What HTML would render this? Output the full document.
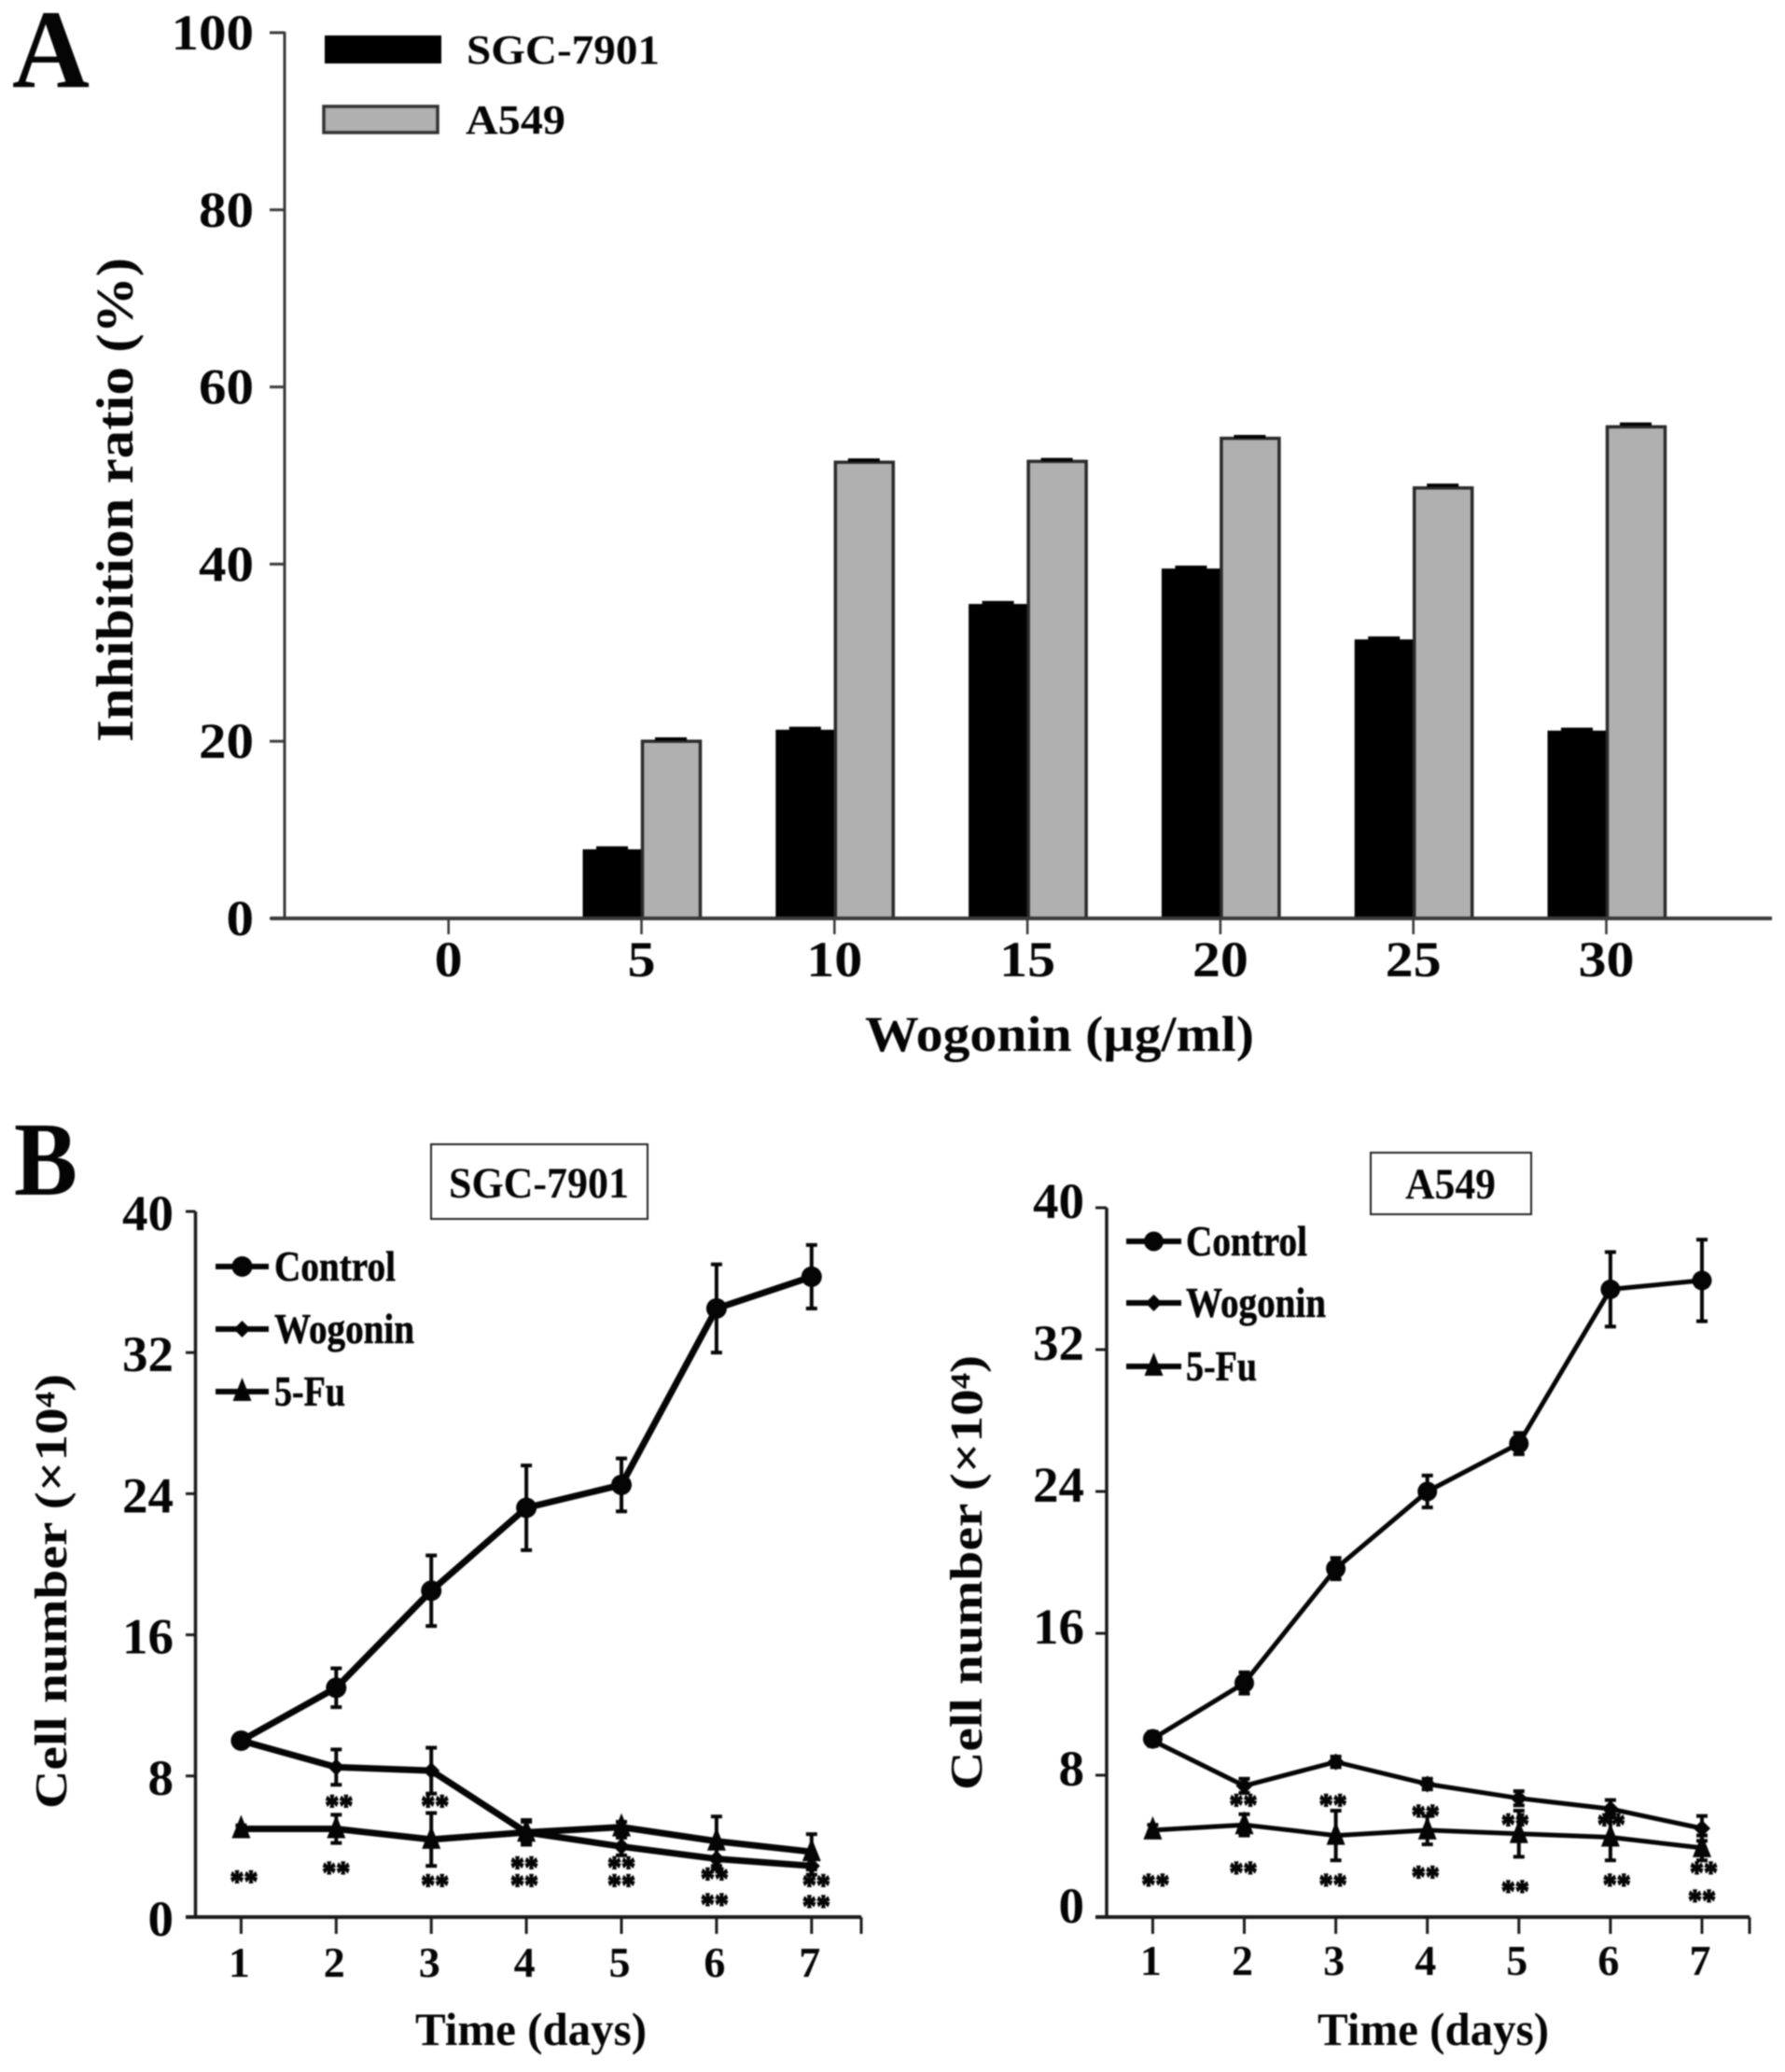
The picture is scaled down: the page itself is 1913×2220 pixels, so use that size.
<!DOCTYPE html>
<html>
<head>
<meta charset="utf-8">
<title>Wogonin inhibition and cell growth charts</title>
<style>
html,body{margin:0;padding:0;background:#fff;}
svg{display:block;filter:blur(0.9px);}
text{font-family:"Liberation Serif",serif;font-weight:bold;fill:#050505;}
</style>
</head>
<body>
<svg id="figure" width="1913" height="2220" viewBox="0 0 1913 2220" xmlns="http://www.w3.org/2000/svg">
  <rect width="1913" height="2220" fill="#fff"/>

  <text x="13" y="93" font-size="120" textLength="83" lengthAdjust="spacingAndGlyphs">A</text>
  <text x="15" y="1280" font-size="112" textLength="68" lengthAdjust="spacingAndGlyphs">B</text>

  <g id="panel-a">
    <rect x="348" y="38" width="125" height="30" fill="#000"/>
    <rect x="347" y="114" width="122" height="28" fill="#b0b0b0" stroke="#333" stroke-width="3.5"/>
    <text x="500" y="68" font-size="44" textLength="207" lengthAdjust="spacingAndGlyphs">SGC-7901</text>
    <text x="499" y="143" font-size="44" textLength="107" lengthAdjust="spacingAndGlyphs">A549</text>
    <text transform="translate(142,795) rotate(-90)" font-size="56" textLength="519" lengthAdjust="spacingAndGlyphs">Inhibition ratio (%)</text>
    <text x="927" y="1126" font-size="54" textLength="417" lengthAdjust="spacingAndGlyphs">Wogonin (µg/ml)</text>
  </g>

  <g id="panel-b-left">
    <rect x="462" y="1226" width="232" height="80" fill="#fff" stroke="#222" stroke-width="2"/>
    <text x="481" y="1283" font-size="47" textLength="193" lengthAdjust="spacingAndGlyphs">SGC-7901</text>
    <text transform="translate(71,1938) rotate(-90)" font-size="49" textLength="466" lengthAdjust="spacingAndGlyphs">Cell number (×10⁴)</text>
    <text x="445" y="2191" font-size="50" textLength="248" lengthAdjust="spacingAndGlyphs">Time (days)</text>
  </g>

  <g id="panel-b-right">
    <rect x="1469" y="1235" width="172" height="66" fill="#fff" stroke="#222" stroke-width="2"/>
    <text x="1506" y="1284" font-size="47" textLength="97" lengthAdjust="spacingAndGlyphs">A549</text>
    <text transform="translate(1052,1918) rotate(-90)" font-size="49" textLength="466" lengthAdjust="spacingAndGlyphs">Cell number (×10⁴)</text>
    <text x="1412" y="2191" font-size="50" textLength="248" lengthAdjust="spacingAndGlyphs">Time (days)</text>
  </g>
</svg>

<script>
// ---------- Panel A data ----------
const doseLabels = ['0', '5', '10', '15', '20', '25', '30'];
const inhibitionTicks = [0, 20, 40, 60, 80, 100];
const sgcInhibition = [0, 7.8, 21.3, 35.5, 39.5, 31.5, 21.2];
const a549Inhibition = [0, 20, 51.5, 51.6, 54.2, 48.6, 55.5];
const sgcInhibitionErr = [0, 0.1, 0.1, 0.1, 0.1, 0.1, 0.1];
const a549InhibitionErr = [0, 0.15, 0.15, 0.1, 0.1, 0.2, 0.2];

// ---------- Panel B data ----------
const dayLabels = [1, 2, 3, 4, 5, 6, 7];
const cellTicks = [0, 8, 16, 24, 32, 40];

const sgcControl = [10, 13, 18.5, 23.2, 24.5, 34.5, 36.3];
const sgcControlErr = [0.4, 1.1, 2, 2.4, 1.5, 2.5, 1.8];
const sgcWogonin = [10, 8.5, 8.3, 4.8, 4, 3.3, 2.9];
const sgcWogoninErr = [0.3, 1, 1.3, 0.7, 0.5, 0.6, 0.5];
const sgcFu = [5, 5, 4.4, 4.8, 5.1, 4.3, 3.7];
const sgcFuErr = [0.2, 0.8, 1.5, 0.6, 0.3, 1.4, 1];
const sgcStarDays = [1.03, 2, 3.04, 3.98, 3.98, 5, 5, 5.98, 5.98, 7.05, 7.05, 2.03, 3.04];
const sgcStarValues = [2.3, 2.8, 2.1, 3.1, 2.1, 3.1, 2.1, 2.45, 1, 2.1, 0.9, 6.6, 6.6];

const a549Control = [10.05, 13.2, 19.65, 24, 26.7, 35.4, 35.9];
const a549ControlErr = [0.4, 0.6, 0.6, 0.9, 0.6, 2.1, 2.3];
const a549Wogonin = [9.95, 7.4, 8.75, 7.5, 6.7, 6.1, 5];
const a549WogoninErr = [0.2, 0.4, 0.3, 0.3, 0.4, 0.5, 0.7];
const a549Fu = [4.9, 5.2, 4.6, 4.9, 4.7, 4.5, 3.9];
const a549FuErr = [0.3, 0.6, 1.4, 0.8, 1.3, 1.3, 0.7];
const a549StarDays = [1.03, 1.99, 2.97, 3.98, 4.96, 6.01, 6.07, 7.02, 7, 1.99, 2.97, 3.98, 4.96];
const a549StarValues = [2.1, 2.8, 2.1, 2.55, 1.75, 5.5, 2.1, 2.8, 1.2, 6.6, 6.6, 6, 5.5];

const legendNames = ['Control', 'Wogonin', '5-Fu'];

// ---------- helpers ----------
const NS = 'http://www.w3.org/2000/svg';
function mk(tag, parent, attrs) {
  const node = document.createElementNS(NS, tag);
  for (const k in attrs) node.setAttribute(k, attrs[k]);
  parent.appendChild(node);
  return node;
}
function lineEl(parent, name, x1, y1, x2, y2, stroke, width) {
  const el = mk('line', parent, {x1: x1, y1: y1, x2: x2, y2: y2, stroke: stroke, 'stroke-width': width});
  
  
  return el;
}
function textEl(parent, name, x, y, content, size, anchor, length) {
  const el = mk('text', parent, {x: x, y: y, 'font-size': size, 'text-anchor': anchor});
  if (length) {
    el.setAttribute('textLength', length);
    el.setAttribute('lengthAdjust', 'spacingAndGlyphs');
  }
  el.textContent = content;
  
  
  return el;
}
function markerEl(parent, name, kind, cx, cy, size) {
  let el;
  if (kind === 'circle') {
    el = mk('circle', parent, {cx: cx, cy: cy, r: size, fill: '#050505'});
  } else if (kind === 'diamond') {
    el = mk('polygon', parent, {
      points: [[cx, cy - size], [cx + size, cy], [cx, cy + size], [cx - size, cy]].join(' '),
      fill: '#050505'
    });
  } else {
    el = mk('polygon', parent, {
      points: [[cx, cy - size * 1.5], [cx + size, cy + size], [cx - size, cy + size]].join(' '),
      fill: '#050505'
    });
  }
  
  
  return el;
}

// ---------- Panel A ----------
(function () {
  const g = document.getElementById('panel-a');
  const y = v => 984 - 9.49 * v;
  const x = i => 480.7 + 206.8 * i;
  const barW = 63;

  doseLabels.forEach(function (lab, i) {
    const sTop = y(sgcInhibition[i]);
    const aTop = y(a549Inhibition[i]);
    if (sgcInhibition[i] > 0) {
      const bar = mk('rect', g, {x: x(i) - barW, y: sTop, width: barW, height: 984 - sTop, fill: '#000'});
      
      
      lineEl(g, 'error-cap-sgc-7901-' + lab, x(i) - barW / 2 - 17, y(sgcInhibition[i] + sgcInhibitionErr[i]) - 0.5, x(i) - barW / 2 + 17, y(sgcInhibition[i] + sgcInhibitionErr[i]) - 0.5, '#000', 3.5);
    }
    if (a549Inhibition[i] > 0) {
      const bar = mk('rect', g, {x: x(i) + 1, y: aTop, width: barW - 1, height: 984 - aTop, fill: '#b0b0b0', stroke: '#2a2a2a', 'stroke-width': 3.5});
      
      
      lineEl(g, 'error-cap-a549-' + lab, x(i) + barW / 2 - 17, y(a549Inhibition[i] + a549InhibitionErr[i]) - 1, x(i) + barW / 2 + 17, y(a549Inhibition[i] + a549InhibitionErr[i]) - 1, '#000', 3.5);
    }
    lineEl(g, 'x-tick-' + lab, x(i), 984, x(i), 1001, '#333', 2.5);
    textEl(g, 'x-tick-label-' + lab, x(i), 1046, lab, 54, 'middle', lab.length * 30);
  });

  lineEl(g, 'y-axis-a', 305, 34, 305, 984, '#3a3a3a', 3);
  lineEl(g, 'x-axis-a', 290, 984, 1899, 984, '#3a3a3a', 4);

  inhibitionTicks.forEach(function (t) {
    lineEl(g, 'y-tick-' + t, 289, y(t), 305, y(t), '#3a3a3a', 3);
    const s = String(t);
    textEl(g, 'y-tick-label-' + t, 272, y(t) + 18, s, 54, 'end', s.length * 29.5);
  });
})();

// ---------- Panel B ----------
function drawLineChart(g, prefix, c, series, starDays, starValues) {
  const y = v => c.y0 - c.yUnit * v;
  const x = d => c.x1 + c.xStep * (d - 1);

  lineEl(g, prefix + '-y-axis', c.axisX, y(40), c.axisX, c.y0, '#1a1a1a', 3.5);
  lineEl(g, prefix + '-x-axis', c.xStart, c.y0, c.xEnd, c.y0, '#1a1a1a', 4);
  lineEl(g, prefix + '-x-axis-end-tick', c.xEnd, c.y0, c.xEnd, c.y0 + 18, '#1a1a1a', 3);

  cellTicks.forEach(function (t) {
    lineEl(g, prefix + '-y-tick-' + t, c.xStart, y(t), c.axisX, y(t), '#1a1a1a', 3);
    const s = String(t);
    textEl(g, prefix + '-y-tick-label-' + t, c.yLabelX, y(t) + (t === 0 ? c.zeroLabelDy : c.yLabelDy), s, 54, 'end', s.length * 27.5);
  });
  dayLabels.forEach(function (d) {
    lineEl(g, prefix + '-x-tick-' + d, x(d), c.y0, x(d), c.y0 + 18, '#1a1a1a', 3);
    textEl(g, prefix + '-x-tick-label-' + d, x(d) - 2, c.xLabelY, String(d), 46, 'middle', 23);
  });

  series.forEach(function (s) {
    const pts = dayLabels.map((d, i) => x(d) + ',' + y(s.values[i])).join(' ');
    const path = mk('polyline', g, {points: pts, fill: 'none', stroke: '#050505', 'stroke-width': c.lineW, 'stroke-linejoin': 'round'});
    
    
    dayLabels.forEach(function (d, i) {
      const v = s.values[i], e = s.err[i];
      lineEl(g, prefix + '-error-bar-' + s.key + '-' + d, x(d), y(v + e), x(d), y(v - e), '#050505', 4);
      lineEl(g, prefix + '-error-cap-top-' + s.key + '-' + d, x(d) - 6, y(v + e), x(d) + 6, y(v + e), '#050505', 4);
      lineEl(g, prefix + '-error-cap-bottom-' + s.key + '-' + d, x(d) - 6, y(v - e), x(d) + 6, y(v - e), '#050505', 4);
      markerEl(g, prefix + '-point-' + s.key + '-' + d, s.marker, x(d), y(v), s.size);
    });
  });

  starDays.forEach(function (d, i) {
    const star = textEl(g, prefix + '-significance-' + i, x(d), y(starValues[i]) + 16, '**', 34, 'middle', 30);
    star.setAttribute('stroke', '#050505');
    star.setAttribute('stroke-width', '1.4');
  });

  series.forEach(function (s, i) {
    const ly = c.legendY[i];
    lineEl(g, prefix + '-legend-line-' + s.key, c.legendX0, ly, c.legendX1, ly, '#050505', 6);
    markerEl(g, prefix + '-legend-marker-' + s.key, s.marker, (c.legendX0 + c.legendX1) / 2, ly, s.size);
    const lab = textEl(g, prefix + '-legend-label-' + s.key, c.legendTextX, ly + 15, legendNames[i], 46, 'start', c.legendLen[i]);
    lab.setAttribute('stroke', '#050505');
    lab.setAttribute('stroke-width', '0.6');
  });
}

drawLineChart(document.getElementById('panel-b-left'), 'sgc', {
  y0: 2054, yUnit: 18.9, x1: 258.4, xStep: 101.9, axisX: 209.5, xStart: 199, xEnd: 923,
  yLabelX: 186, yLabelDy: 20, zeroLabelDy: 20, xLabelY: 2118, lineW: 7,
  legendX0: 231, legendX1: 288, legendY: [1357, 1424, 1491], legendTextX: 294, legendLen: [130, 150, 76]
}, [
  {key: 'control', marker: 'circle', size: 11, values: sgcControl, err: sgcControlErr},
  {key: 'wogonin', marker: 'diamond', size: 9, values: sgcWogonin, err: sgcWogoninErr},
  {key: '5-fu', marker: 'triangle', size: 10, values: sgcFu, err: sgcFuErr}
], sgcStarDays, sgcStarValues);

drawLineChart(document.getElementById('panel-b-right'), 'a549', {
  y0: 2054, yUnit: 19, x1: 1235.4, xStep: 98.1, axisX: 1186, xStart: 1174, xEnd: 1875,
  yLabelX: 1162, yLabelDy: 11, zeroLabelDy: 6, xLabelY: 2116, lineW: 5,
  legendX0: 1207, legendX1: 1266, legendY: [1330, 1396, 1464], legendTextX: 1271, legendLen: [130, 150, 76]
}, [
  {key: 'control', marker: 'circle', size: 10.5, values: a549Control, err: a549ControlErr},
  {key: 'wogonin', marker: 'diamond', size: 9, values: a549Wogonin, err: a549WogoninErr},
  {key: '5-fu', marker: 'triangle', size: 10, values: a549Fu, err: a549FuErr}
], a549StarDays, a549StarValues);
</script>
</body>
</html>
